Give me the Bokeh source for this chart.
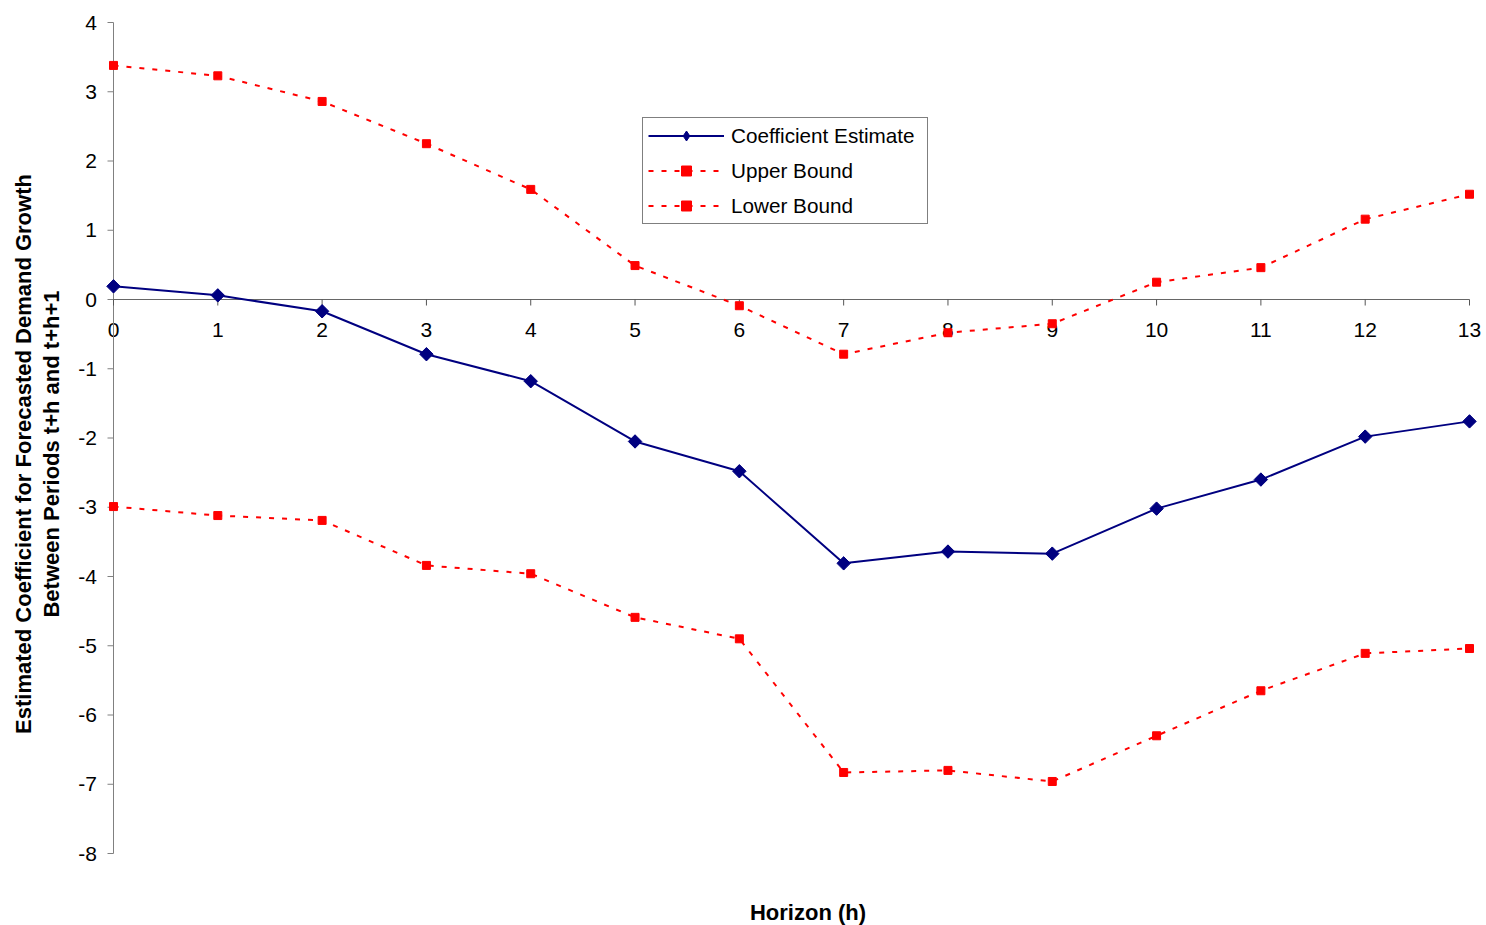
import numpy as np
from bokeh.plotting import figure
from bokeh.models import (Range1d, LabelSet, Label, ColumnDataSource, Legend, LegendItem)
from bokeh.embed import file_html
from bokeh.resources import INLINE
from bokeh.core.properties import value

# ---- data ----
horizon = list(range(14))
coef = [0.19, 0.06, -0.17, -0.79, -1.18, -2.05, -2.48, -3.81, -3.64, -3.67,
        -3.02, -2.60, -1.98, -1.76]
upper = [3.38, 3.23, 2.86, 2.25, 1.59, 0.49, -0.09, -0.79, -0.48, -0.35,
         0.25, 0.46, 1.16, 1.52]
lower = [-2.99, -3.12, -3.19, -3.84, -3.96, -4.59, -4.90, -6.83, -6.80, -6.96,
         -6.30, -5.65, -5.11, -5.04]
x_tick_labels = [str(h) for h in horizon]
y_ticks = list(range(-8, 5))
y_tick_labels = [str(t) for t in y_ticks]

FONT = "Liberation Sans"
AXIS_COLOR = "#808080"
TICK_COLOR = "#555555"

# ---- layout: the plotting frame covers the whole canvas ----
W, H = 1486, 925
PLOT_LEFT, PLOT_RIGHT, PLOT_TOP, PLOT_BOTTOM = 113, 1469, 22, 853
x_lo, x_hi = min(horizon), max(horizon)
y_lo, y_hi = min(y_ticks), max(y_ticks)
xpx = (PLOT_RIGHT - PLOT_LEFT) / (x_hi - x_lo)
ypx = (PLOT_BOTTOM - PLOT_TOP) / (y_hi - y_lo)
x_start = x_lo - PLOT_LEFT / xpx
x_end = x_start + W / xpx
y_end = y_hi + PLOT_TOP / ypx
y_start = y_end - H / ypx

p = figure(width=W, height=H, output_backend="svg", toolbar_location=None,
           x_range=Range1d(x_start, x_end), y_range=Range1d(y_start, y_end),
           x_axis_location=None, y_axis_location=None, min_border=0)
p.outline_line_color = None
p.grid.visible = False
p.background_fill_color = "white"
p.border_fill_color = "white"

# ---- y axis at x = 0 ----
p.segment(x0=[x_lo], y0=[y_lo], x1=[x_lo], y1=[y_hi], line_color=AXIS_COLOR, line_width=1)
ytl = 6 / xpx
p.segment(x0=[x_lo] * len(y_ticks), y0=y_ticks, x1=[x_lo - ytl] * len(y_ticks), y1=y_ticks,
          line_color=AXIS_COLOR, line_width=1)
ysrc = ColumnDataSource(dict(x=[x_lo] * len(y_ticks), y=y_ticks, t=y_tick_labels))
p.add_layout(LabelSet(source=ysrc, x="x", y="y", text="t", x_offset=-16.5,
                      text_align="right", text_baseline="middle",
                      text_font=value(FONT), text_font_size="21px", text_color="black"))

# ---- x axis at y = 0 ----
p.segment(x0=[x_lo], y0=[0], x1=[x_hi], y1=[0], line_color="#666666", line_width=1)
xtl = 6 / ypx
p.segment(x0=horizon, y0=[0] * len(horizon), x1=horizon, y1=[-xtl] * len(horizon),
          line_color=TICK_COLOR, line_width=1)
xsrc = ColumnDataSource(dict(x=horizon, y=[0] * len(horizon), t=x_tick_labels))
p.add_layout(LabelSet(source=xsrc, x="x", y="y", text="t", y_offset=-30,
                      text_align="center", text_baseline="middle",
                      text_font=value(FONT), text_font_size="21px", text_color="black",
                      level="underlay"))

# ---- series ----
r_up_l = p.line(horizon, upper, line_color="red", line_width=2, line_dash="5 8")
r_up_m = p.scatter(horizon, upper, marker="square", size=8, color="red")
r_lo_l = p.line(horizon, lower, line_color="red", line_width=2, line_dash="5 8")
r_lo_m = p.scatter(horizon, lower, marker="square", size=8, color="red")
r_c_l = p.line(horizon, coef, line_color="#000080", line_width=2)
# diamond glyph (gives the legend a diamond; lies under the rotated squares)
r_c_d = p.scatter(horizon, coef, marker="diamond", size=12, color="#000080")
r_c_m = p.scatter(horizon, coef, marker="square", size=9.5, angle=np.pi / 4,
                  color="#000080")

legend = Legend(items=[
    LegendItem(label="Coefficient Estimate", renderers=[r_c_l, r_c_d]),
    LegendItem(label="Upper Bound", renderers=[r_up_l, r_up_m]),
    LegendItem(label="Lower Bound", renderers=[r_lo_l, r_lo_m]),
], location=(642, H - 224), margin=0, padding=5, spacing=10,
    glyph_width=76, glyph_height=25, label_standoff=7,
    label_width=191, label_height=25,
    label_text_font=FONT, label_text_font_size="20.7px", label_text_color="black",
    border_line_color="black", border_line_width=1,
    background_fill_color="white", background_fill_alpha=1.0)
p.add_layout(legend)

# ---- axis titles ----
y_title_mid = y_hi - (453.5 - PLOT_TOP) / ypx
p.add_layout(Label(x=x_lo, y=y_title_mid, x_offset=-90.5,
                   text="Estimated Coefficient for Forecasted Demand Growth",
                   angle=np.pi / 2, text_align="center", text_baseline="middle",
                   text_font=FONT, text_font_size="22px", text_font_style="bold",
                   text_color="black"))
p.add_layout(Label(x=x_lo, y=y_title_mid, x_offset=-62,
                   text="Between Periods t+h and t+h+1",
                   angle=np.pi / 2, text_align="center", text_baseline="middle",
                   text_font=FONT, text_font_size="22px", text_font_style="bold",
                   text_color="black"))
p.add_layout(Label(x=x_lo + (807.5 - PLOT_LEFT) / xpx, y=y_lo, y_offset=-59,
                   text="Horizon (h)",
                   text_align="center", text_baseline="middle",
                   text_font=FONT, text_font_size="22px", text_font_style="bold",
                   text_color="black"))

open("out.html", "w").write(file_html(p, INLINE))
